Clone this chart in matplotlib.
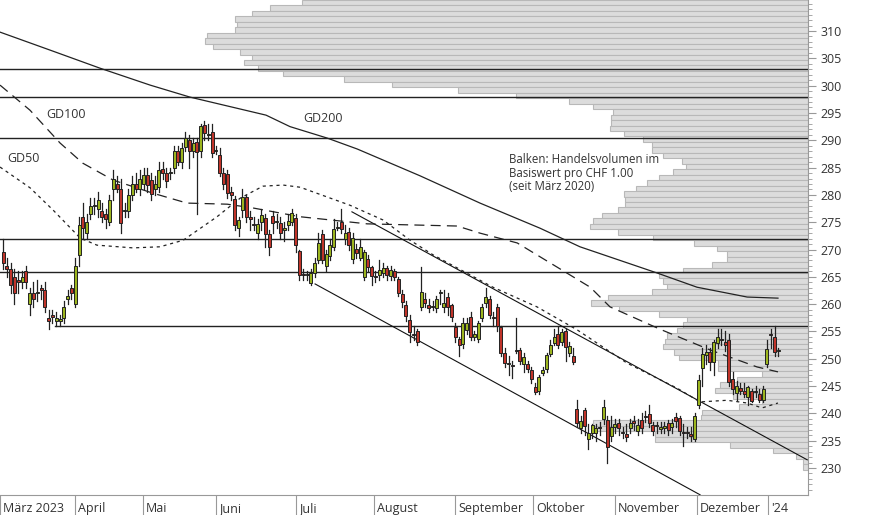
import matplotlib
matplotlib.use("Agg")
import matplotlib.pyplot as plt
import matplotlib.transforms as mtransforms
import numpy as np

plt.rcParams['font.family'] = ['Open Sans', 'DejaVu Sans']

# ---- candles (daily, trading days) ----
opens = [269.5,267.0,266.5,265.0,264.5,264.0,266.0,260.0,262.0,262.0,263.0,262.5,257.5,258.0,257.0,257.0,257.5,261.0,263.0,
 260.0,269.0,276.0,273.0,276.5,278.0,277.5,277.0,276.5,275.0,281.0,282.0,281.0,277.0,277.0,280.0,282.0,281.0,
 282.0,283.6,282.7,281.0,281.5,284.7,284.0,284.0,285.0,288.0,286.0,288.8,290.0,288.0,289.7,288.0,292.8,291.0,291.5,288.0,
 287.3,284.0,283.8,280.5,279.2,273.9,277.2,279.6,276.0,274.6,273.0,275.0,275.8,272.8,276.1,275.0,274.8,273.6,274.5,275.0,275.8,
 269.7,265.6,265.3,263.9,265.7,268.1,272.8,267.0,268.8,270.5,274.0,275.0,271.9,273.2,268.3,270.1,268.4,265.0,268.3,266.8,
 265.2,265.3,265.7,266.6,265.1,266.0,264.6,261.9,259.8,257.1,254.6,255.0,259.5,261.0,259.8,259.5,259.3,262.0,259.5,261.3,
 259.8,255.8,253.6,252.7,255.3,257.6,254.0,253.6,257.5,260.2,261.0,257.6,259.5,255.8,251.0,249.0,248.9,251.5,251.6,249.0,
 249.0,248.0,244.8,244.1,247.4,248.1,250.9,252.9,254.5,253.0,255.1,251.0,250.5,
 240.8,237.3,240.6,235.3,236.4,236.4,237.5,238.9,238.8,235.9,237.5,238.3,236.6,236.3,237.3,238.6,236.8,238.8,239.6,239.9,
 237.9,237.8,237.2,237.4,238.3,237.5,239.3,239.1,236.5,236.6,236.3,235.3,241.5,248.3,250.7,251.3,249.4,252.9,253.6,253.0,
 253.4,246.3,243.8,244.6,244.1,243.0,244.1,244.0,243.5,242.4,249.0,254.5,254.0,251.4]
closes = [267.5,266.5,263.5,262.0,264.0,265.0,264.0,262.0,261.0,262.2,262.5,259.5,257.0,257.7,257.5,257.2,259.5,261.5,262.0,
 267.0,274.5,274.0,275.0,278.0,278.2,279.0,276.0,275.5,279.0,283.0,281.0,274.8,277.2,280.0,282.0,281.0,283.0,
 283.6,281.9,280.2,282.0,284.6,284.0,282.5,284.2,288.0,286.0,288.5,290.4,288.0,289.5,287.8,292.6,291.3,291.2,287.7,288.2,
 284.0,282.0,280.3,280.0,274.5,275.4,279.6,276.0,275.5,274.4,274.7,276.3,272.8,270.5,274.8,275.2,273.0,274.0,275.2,276.7,270.8,
 265.3,265.3,265.5,265.7,267.5,271.2,268.1,269.2,270.8,273.8,274.2,273.8,273.0,270.8,272.1,269.4,270.5,269.5,266.8,265.1,
 265.0,266.2,266.6,265.3,266.2,265.0,262.0,260.4,257.8,254.9,254.4,253.0,262.2,260.2,259.3,259.6,261.0,262.1,260.2,259.5,
 257.6,254.0,252.5,256.5,256.5,254.0,254.5,256.5,259.5,261.3,258.0,257.4,256.0,251.0,249.2,249.1,248.7,251.4,249.6,250.3,
 248.1,246.3,243.9,246.7,248.0,250.7,252.5,254.0,252.5,254.9,252.2,252.3,249.4,
 238.2,238.6,237.7,236.4,237.8,237.3,237.4,241.2,233.8,237.5,238.0,237.3,236.5,235.7,238.3,238.2,237.9,237.3,239.3,238.2,
 236.8,237.7,237.6,237.7,237.0,238.2,238.6,236.8,236.4,236.5,235.9,239.5,246.1,250.9,251.3,249.4,253.0,254.0,253.4,252.5,
 245.7,244.5,245.0,244.1,243.5,244.8,242.3,243.9,242.4,244.5,251.8,254.3,251.2,251.5]
highs = [272.0,268.5,267.5,266.5,266.0,266.0,267.0,263.0,264.0,264.5,263.5,264.0,259.0,259.0,258.5,258.0,260.5,262.5,263.5,
 268.5,276.0,278.5,276.5,279.5,279.5,280.5,278.5,277.5,280.0,284.5,283.5,283.0,278.5,281.0,283.5,284.0,284.5,
 285.0,285.0,284.0,283.5,286.0,286.0,285.0,285.0,289.0,289.0,289.5,291.5,291.0,290.5,290.5,293.0,293.5,293.0,293.0,289.0,
 288.5,285.0,284.5,281.5,279.8,276.0,281.0,280.0,277.0,276.0,275.5,277.5,276.5,273.5,277.0,276.5,276.0,275.0,276.5,277.5,276.5,
 270.0,266.5,266.0,266.5,268.5,273.0,273.5,270.0,272.0,275.5,275.0,277.5,274.5,274.0,273.0,271.0,272.0,270.0,269.0,267.0,
 266.0,268.0,267.5,267.0,267.0,266.5,265.0,262.5,260.5,258.0,256.0,255.5,266.8,262.0,261.0,260.5,261.5,262.5,262.5,262.0,
 260.0,256.5,254.0,257.5,257.5,258.5,255.0,257.0,260.0,263.0,261.5,258.5,260.0,256.0,252.0,250.5,249.5,257.5,252.0,251.0,
 249.5,248.5,245.5,247.0,248.5,251.0,253.5,255.5,256.0,255.5,255.5,253.0,252.0,
 242.5,239.5,241.0,238.0,238.0,238.0,238.5,242.5,239.5,239.5,239.0,239.0,237.5,238.0,239.0,239.5,239.0,240.0,240.5,241.5,
 238.5,238.5,238.5,238.5,238.8,239.0,240.0,239.5,238.0,237.5,237.5,240.0,247.0,252.0,252.5,252.0,253.5,255.5,255.5,255.0,
 254.5,247.5,246.0,245.5,245.5,245.0,244.5,245.0,244.5,245.0,253.5,255.5,256.0,252.0]
lows = [266.5,265.0,262.0,260.0,262.0,263.0,263.0,258.0,259.5,260.5,261.0,258.5,255.5,256.5,256.0,256.0,256.5,260.0,261.0,
 259.5,267.0,272.0,272.0,275.5,276.5,276.0,275.0,274.0,274.5,279.0,280.5,273.0,276.0,276.0,279.0,280.5,280.0,
 281.0,280.5,279.0,280.0,280.5,283.0,281.5,283.0,284.0,285.5,285.0,288.0,285.0,287.0,276.5,287.0,290.0,290.0,287.0,287.5,
 283.5,281.0,279.5,279.0,273.5,272.5,276.0,275.0,273.5,273.5,272.0,273.5,270.5,269.0,273.0,274.0,272.0,271.5,273.5,274.5,269.5,
 264.5,264.5,264.5,263.5,265.0,267.5,267.5,266.0,268.0,270.0,273.5,273.0,271.0,270.0,267.5,268.5,268.0,264.5,266.0,263.5,
 264.0,264.5,265.0,264.5,264.5,264.5,261.5,259.5,257.0,253.0,253.5,252.5,259.0,259.5,258.5,259.0,258.5,260.0,258.5,258.0,
 257.0,253.0,250.5,252.0,254.5,253.5,253.5,253.0,257.0,259.5,257.5,256.0,255.0,250.5,248.5,247.0,246.5,251.0,249.0,247.5,
 247.5,245.5,243.5,243.5,247.0,247.5,250.5,252.5,252.0,252.5,249.5,250.5,249.0,
 237.5,236.5,236.0,233.5,235.5,235.0,236.0,238.0,230.9,235.0,236.5,236.0,235.5,235.0,236.5,237.0,236.0,236.5,238.5,237.5,
 236.0,236.5,236.5,236.5,236.0,236.5,237.5,236.0,234.0,235.5,235.0,235.0,241.0,245.0,249.0,248.0,247.0,252.0,252.5,251.5,
 245.0,243.5,242.5,243.5,243.0,241.5,242.0,243.0,242.0,242.0,248.5,252.0,250.5,250.5]

# ---- moving averages (index, value) ----
gd200_idx = [-0.8,12.4,25.5,38.7,49.2,69.2,75.5,85.3,93.2,109.7,125.5,141.3,151.8,172.1,182.6,195.8,203.9]
gd200_val = [309.8,306.5,303.2,300.1,297.9,294.6,292.5,290.4,288.4,283.5,278.5,273.9,270.5,265.7,263.1,261.3,261.1]
gd100_idx = [-0.8,7.1,15,21,29,39.5,48.4,59,65.8,78.2,95.8,119.5,125.5,135.3,154.5,159.7,172.9,186.1,198.4,203.9]
gd100_val = [300.1,295.5,289.5,285.8,282.7,280.3,278.5,278.3,277.6,276.0,274.7,274.3,273.0,271.2,263.1,259.5,255.4,251.6,248.5,247.6]
gd50_idx = [-0.8,7.1,13.2,20.3,24.7,34.2,41.3,47.4,56.3,62.4,68.4,73.7,78.2,91.3,100,107.1,113.2,128.9,140.5,151.05,164.2,177.4,183.4,190.5,195.8,199.7,203.9]
gd50_val = [285.1,281.3,277.2,272.1,270.8,270.3,270.5,271.7,276.0,279.4,281.6,281.8,281.4,278.1,275.4,271.7,269.0,263.1,259.5,255.3,249.2,244.6,242.1,242.4,241.9,241.0,241.9]

# ---- support / resistance and trend channel ----
hlines = [303.0, 297.9, 290.4, 271.9, 265.9]
hline_256 = 256.0
upper_trend_idx = [91.8, 211.6]
upper_trend_val = [276.9, 231.5]
lower_trend_idx = [82.1, 183.4]
lower_trend_val = [263.7, 225.1]

# ---- volume profile (price level, relative volume) ----
vol_levels = list(range(315, 229, -1))
vol_left_px = [302,270,252,235,237,235,207,205,213,240,252,244,258,283,344,392,458,516,569,593,613,611,611,610,624,643,
 652,652,663,682,686,673,659,647,636,624,625,625,618,602,593,590,618,653,694,717,727,727,712,683,659,663,667,652,608,591,
 619,659,687,683,677,667,665,663,674,679,718,718,762,737,720,715,733,762,739,702,701,593,595,655,655,730,773,796,803,803]
vol_values = [808 - v for v in vol_left_px]

month_labels = ['März 2023','April','Mai','Juni','Juli','August','September','Oktober','November','Dezember',"'24"]
month_pos = [-0.8,18.9,36.8,56.0,77.1,97.6,118.9,139.5,161.0,182.6,201.3]

W, H = 874, 515
fig = plt.figure(figsize=(W/100, H/100), dpi=100)
rect = [0, 20/H, 808/W, 495/H]
ylo, yhi = 225.06, 315.68
xlo, xhi = -0.79, 211.8

axv = fig.add_axes(rect)
axv.barh([l + 0.2 for l in vol_levels], vol_values, height=1.0, left=0,
         color='#dcdcdc', edgecolor='#b8b8b8', linewidth=0.8)
axv.set_xlim(808, 0)
axv.set_ylim(ylo, yhi)
axv.axis('off')

ax = fig.add_axes(rect, facecolor='none')
ax.set_xlim(xlo, xhi)
ax.set_ylim(ylo, yhi)

for h in hlines:
    ax.axhline(h, color='#222222', lw=1.0, zorder=2)
ax.plot([13.7, xhi], [hline_256, hline_256], color='#222222', lw=1.0, zorder=2)
ax.plot(upper_trend_idx, upper_trend_val, color='#111111', lw=0.8, zorder=2)
ax.plot(lower_trend_idx, lower_trend_val, color='#111111', lw=0.8, zorder=2)

ax.plot(gd200_idx, gd200_val, color='#222222', lw=0.9, zorder=3)
ax.plot(gd100_idx, gd100_val, color='#222222', lw=0.9, ls=(0, (8, 5)), zorder=3)
ax.plot(gd50_idx, gd50_val, color='#222222', lw=0.9, ls=(0, (2.5, 3)), zorder=3)

x = np.arange(len(opens))
wid = 0.78
for i in range(len(opens)):
    o, c, hi, lo = opens[i], closes[i], highs[i], lows[i]
    col = '#9cb51f' if c >= o else '#c0342a'
    ax.plot([x[i], x[i]], [lo, hi], color='#222222', lw=0.9, zorder=4)
    bh = max(abs(c - o), 0.15)
    ax.add_patch(plt.Rectangle((x[i] - wid/2, min(o, c)), wid, bh, facecolor=col,
                               edgecolor='#222222', lw=0.7, zorder=5))

def px2x(p):
    return p/808*(xhi-xlo)+xlo

ax.text(px2x(46), 294.8, 'GD100', fontsize=9, color='#333333', va='center')
ax.text(px2x(7), 286.75, 'GD50', fontsize=9, color='#333333', va='center')
ax.text(px2x(303), 294.0, 'GD200', fontsize=9, color='#333333', va='center')
ax.text(px2x(509), 287.6, 'Balken: Handelsvolumen im\nBasiswert pro CHF 1.00\n(seit März 2020)',
        fontsize=8.3, color='#333333', va='top', linespacing=1.05)

for s in ['top', 'left']:
    ax.spines[s].set_visible(False)
ax.spines['right'].set_color('#999999')
ax.spines['bottom'].set_color('#999999')
ax.yaxis.tick_right()
ax.set_yticks(range(230, 315, 5))
ax.set_yticks(range(226, 316), minor=True)
ax.tick_params(axis='y', which='major', length=6, color='#999999', labelsize=9, labelcolor='#333333', pad=3)
ax.tick_params(axis='y', which='minor', length=3, color='#999999')
ax.set_xticks(month_pos)
ax.set_xticklabels(month_labels)
ax.tick_params(axis='x', length=18, color='#999999', labelsize=9, labelcolor='#333333', pad=-13)
off = mtransforms.ScaledTranslation(3/100, 0, fig.dpi_scale_trans)
for lab in ax.get_xticklabels():
    lab.set_horizontalalignment('left')
    lab.set_transform(lab.get_transform() + off)

fig.savefig('out.png', dpi=100)
